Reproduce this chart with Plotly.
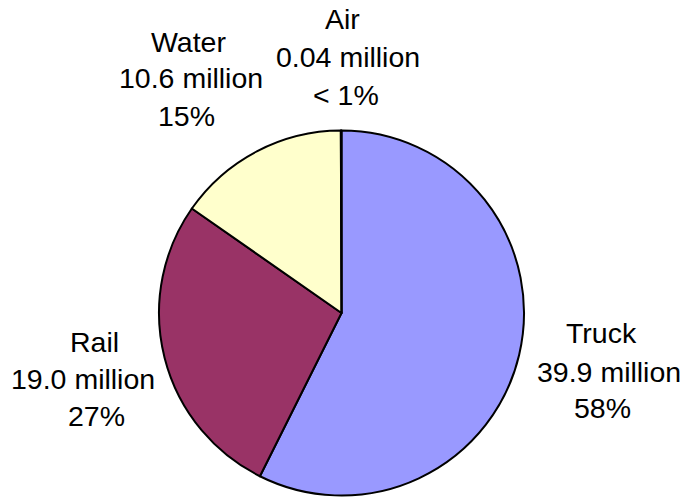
import plotly.graph_objects as go

# Data
modes = ["Truck", "Rail", "Water", "Air"]
tons_million = [39.9, 19.0, 10.6, 0.04]
value_labels = ["39.9", "19.0", "10.6", "0.04"]
pct_labels = ["58%", "27%", "15%", "< 1%"]
colors = ["#9999FF", "#993366", "#FFFFCC", "#CCFFFF"]

W, H = 685, 497
cx, cy, R = 341.5, 313.0, 182.5

fig = go.Figure()
fig.add_trace(go.Pie(
    labels=modes,
    values=tons_million,
    sort=False,
    direction="clockwise",
    rotation=0,
    marker=dict(colors=colors, line=dict(color="#000000", width=2)),
    textinfo="none",
    hoverinfo="label+value+percent",
    showlegend=False,
    domain=dict(x=[(cx - R) / W, (cx + R) / W], y=[1 - (cy + R) / H, 1 - (cy - R) / H]),
))

# per-line label positions in pixels (x centre, y centre) for each slice's label lines
line_pos = [
    [(601, 333), (608.5, 372), (602.5, 408)],   # Truck
    [(94, 342), (82.5, 379), (96.5, 416)],      # Rail
    [(188, 42), (190.5, 78.5), (187, 115.5)],   # Water
    [(342, 19.5), (348, 56.5), (346, 95.5)],    # Air
]

for name, v, p, poss in zip(modes, value_labels, pct_labels, line_pos):
    lines = [name, f"{v} million", p]
    for txt, (lx, ly) in zip(lines, poss):
        fig.add_annotation(
            x=lx / W, y=1 - ly / H, xref="paper", yref="paper",
            text=txt, showarrow=False, xanchor="center", yanchor="middle",
            font=dict(family="Arial, Liberation Sans, sans-serif", size=28.5, color="#000000"),
        )

fig.update_layout(
    width=W, height=H,
    margin=dict(l=0, r=0, t=0, b=0),
    paper_bgcolor="white", plot_bgcolor="white",
)

fig.write_html("out.html")
